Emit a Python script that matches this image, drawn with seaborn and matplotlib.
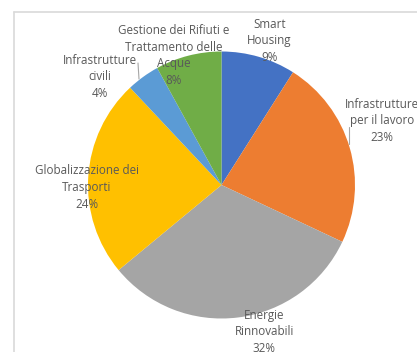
import matplotlib
matplotlib.use("Agg")
import matplotlib.pyplot as plt
from matplotlib.lines import Line2D
import seaborn as sns

# Investment areas and their share of the total (%)
categories = [
    "Smart\nHousing",
    "Infrastrutture\nper il lavoro",
    "Energie\nRinnovabili",
    "Globalizzazione dei\nTrasporti",
    "Infrastrutture\ncivili",
    "Gestione dei Rifiuti e\nTrattamento delle\nAcque",
]
shares = [9, 23, 32, 24, 4, 8]
slice_colors = ["#4472C4", "#ED7D31", "#A5A5A5", "#FFC000", "#5B9BD5", "#70AD47"]

# Label centres in pie units (radius = 1, origin at the pie centre)
label_pos = [
    (0.36, 1.08),
    (1.20, 0.48),
    (0.32, -1.10),
    (-1.01, -0.02),
    (-0.91, 0.81),
    (-0.36, 0.97),
]

sns.set_theme(style="white")
plt.rcParams["font.family"] = ["Open Sans", "DejaVu Sans"]

W, H, DPI = 417, 352, 100
cx, cy, R = 221.5, 185.0, 133.5  # pie centre and radius in pixels

fig = plt.figure(figsize=(W / DPI, H / DPI), dpi=DPI)
fig.patch.set_facecolor("white")
ax = fig.add_axes([0, 0, 1, 1])

ax.pie(
    shares,
    colors=sns.color_palette(slice_colors),
    startangle=90,
    counterclock=False,
    radius=1.0,
    wedgeprops=dict(linewidth=0),
)
ax.set_aspect("auto")
ax.set_xlim(-cx / R, (W - cx) / R)
ax.set_ylim((cy - H) / R, cy / R)
ax.axis("off")

text_color = "#595959"
for name, val, (x, y) in zip(categories, shares, label_pos):
    ax.text(x, y, f"{name}\n{val}%", ha="center", va="center",
            fontsize=8.4, color=text_color, linespacing=1.38)

# Leader lines for the two labels sitting outside their slices
def px(x, y):
    return ((x - cx) / R, (cy - y) / R)

for (x0, y0), (x1, y1) in [((138, 63), (139, 79)), ((349, 127), (349, 144))]:
    a, b = px(x0, y0), px(x1, y1)
    ax.plot([a[0], b[0]], [a[1], b[1]], color="#A6A6A6", lw=0.8)

# Chart-area frame (top and left edges)
fx, fy = 13.5 / W, 1 - 11.5 / H
fig.add_artist(Line2D([fx, 1], [fy, fy], transform=fig.transFigure, color="#D9D9D9", lw=1.2))
fig.add_artist(Line2D([fx, fx], [0, fy], transform=fig.transFigure, color="#D9D9D9", lw=1.2))

fig.savefig("out.png", dpi=DPI, facecolor="white")
